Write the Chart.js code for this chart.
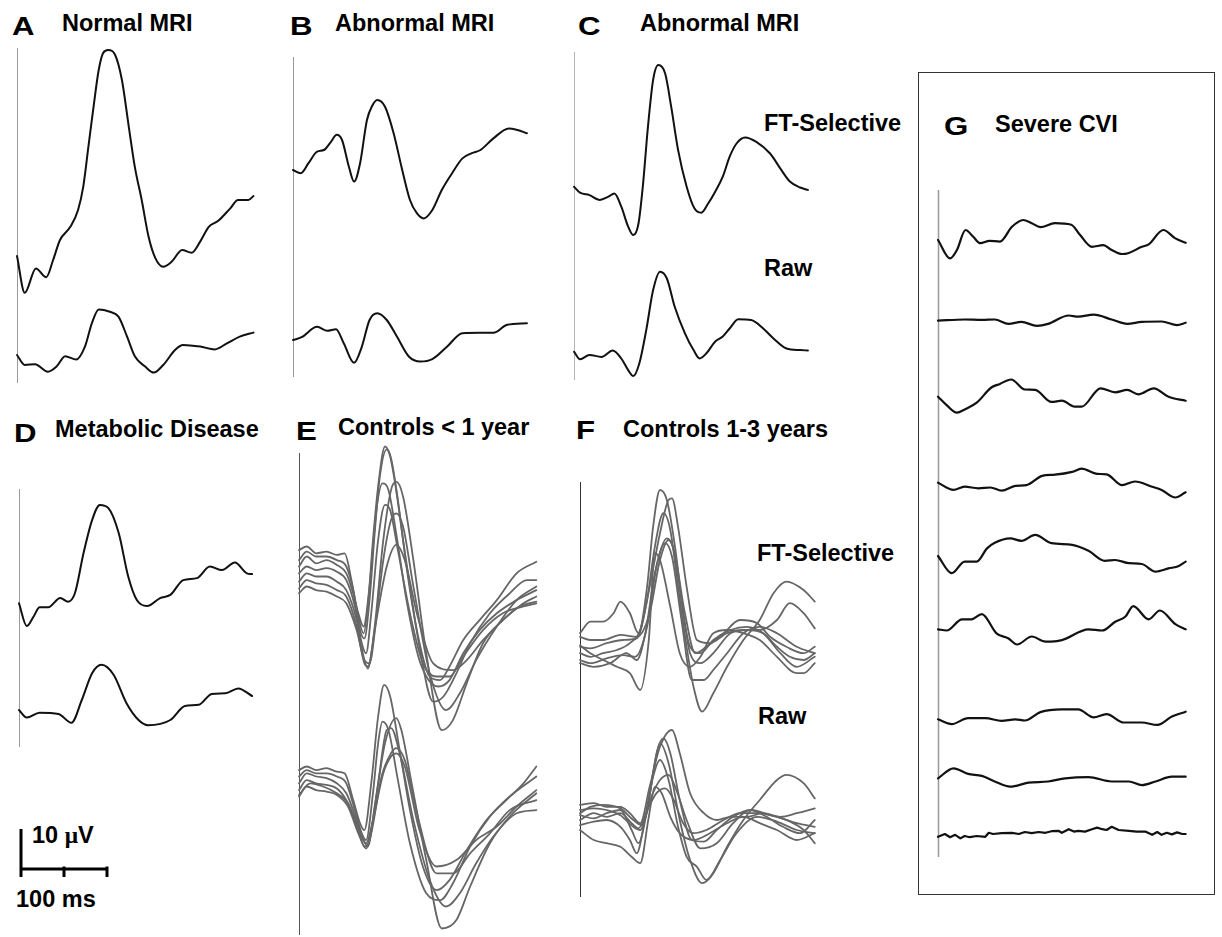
<!DOCTYPE html>
<html>
<head>
<meta charset="utf-8">
<script src="https://cdn.jsdelivr.net/npm/chart.js@4/dist/chart.umd.min.js"></script>
<style>
  body { margin: 0; background: #fff; width: 1222px; height: 937px; position: relative; overflow: hidden;
         font-family: "Liberation Sans", Arial, sans-serif; }
  .t { position: absolute; font-weight: bold; font-size: 23.5px; line-height: 1; color: #000; white-space: nowrap; }
  .L { font-size: 26px; transform: scaleX(1.2); transform-origin: left top; }
  canvas { position: absolute; }
  #gbox { position: absolute; left: 918px; top: 72px; width: 297px; height: 823px; border: 1.5px solid #333; box-sizing: border-box; }
</style>
</head>
<body>
<div id="gbox"></div>

<div class="t L" style="left:12px;top:13px">A</div>
<div class="t" style="left:62px;top:12px">Normal MRI</div>
<div class="t L" style="left:290px;top:13px">B</div>
<div class="t" style="left:335px;top:12px">Abnormal MRI</div>
<div class="t L" style="left:578px;top:13px">C</div>
<div class="t" style="left:640px;top:12px">Abnormal MRI</div>
<div class="t" style="left:764px;top:112px">FT-Selective</div>
<div class="t" style="left:764px;top:257px">Raw</div>
<div class="t L" style="left:14px;top:420px">D</div>
<div class="t" style="left:55px;top:418px">Metabolic Disease</div>
<div class="t L" style="left:296px;top:418px">E</div>
<div class="t" style="left:338px;top:416px">Controls &lt; 1 year</div>
<div class="t L" style="left:576px;top:417px">F</div>
<div class="t" style="left:623px;top:418px">Controls 1-3 years</div>
<div class="t" style="left:757px;top:542px">FT-Selective</div>
<div class="t" style="left:758px;top:705px">Raw</div>
<div class="t L" style="left:944px;top:113px">G</div>
<div class="t" style="left:995px;top:113px">Severe CVI</div>
<div class="t" style="left:32px;top:824px">10 <span style="font-family:'Liberation Serif',serif">μ</span>V</div>
<div class="t" style="left:16px;top:888px">100 ms</div>

<script>
// waveforms: [time ms, amplitude uV], amplitude relative to each group's baseline
const aFt = [[0,0],[9,-9.2],[22,-3.1],[34,-5.3],[42,-1],[50,4],[62,7.3],[71,11.5],[77,17.3],[83,27.3],[89,37.3],[95,46.5],[100,50.7],[106,51.5],[114,50.3],[122,44],[130,32.3],[137,22.3],[145,14],[153,4.8],[161,-0.6],[170,-2.7],[180,-1.4],[192,1.5],[203,0.8],[213,3.6],[223,7.3],[234,8.8],[248,11.9],[257,14],[269,14],[275,15]];
const aRaw = [[0,0],[9,-2.5],[21,-2.3],[36,-4.2],[46,-2.9],[56,-0.3],[69,-1.1],[79,2.1],[87,7.9],[95,11.4],[108,10.8],[118,9.6],[128,4.6],[137,-0.3],[149,-2.9],[159,-4.4],[170,-2.5],[184,1.3],[193,2.5],[213,2.1],[230,1.4],[244,2.9],[259,4.6],[275,5.6]];

const bFt = [[0,0],[9,-0.8],[18,1.7],[28,4.6],[36,5],[43,6.7],[51,8.8],[57,7.5],[65,0.8],[71,-2.9],[78,1.7],[86,12.5],[92,16],[98,17.5],[107,15.8],[117,9.2],[127,0],[136,-7.5],[144,-10.8],[152,-12.1],[162,-10],[173,-5],[185,-0.8],[197,2.9],[208,4.2],[218,5],[233,7.9],[251,10.4],[261,10],[272,9.2]];
const bRaw = [[0,0],[10,0.7],[28,3.3],[40,2.3],[50,2.7],[59,-0.8],[71,-5.7],[80,-1.7],[89,5],[98,6.7],[109,5],[121,0.8],[135,-4.2],[148,-5.4],[162,-4.8],[179,-1.7],[197,1.7],[218,1.8],[233,1.8],[249,3.8],[272,4.2]];

const cFt = [[0,0],[7,-1.5],[18,-2.1],[30,-3.3],[40,-2.5],[47,-1.7],[55,-5],[63,-10],[69,-12.1],[75,-9.2],[80,0],[86,15],[92,26.7],[98,30.4],[106,28.3],[113,20],[121,9.2],[131,0],[140,-5.4],[148,-6.5],[156,-4.2],[164,-1.3],[173,2.5],[181,7.5],[189,10.8],[199,12.3],[212,11.2],[228,8.3],[241,4.2],[251,1.3],[263,-0.2],[272,-0.8]];
const cRaw = [[0,0],[7,-1.9],[18,-0.8],[32,-1.3],[45,0.3],[55,-1.7],[63,-4.6],[69,-6.1],[76,-2.9],[84,5.4],[92,15.4],[100,20],[108,18.3],[117,11.3],[129,4.6],[139,0.4],[146,-1.7],[154,-0.4],[164,2.5],[173,3.8],[181,5.8],[191,8.1],[206,7.9],[220,5.8],[232,3.3],[247,0.8],[263,0.4],[272,0.3]];

const dFt = [[0,0],[9,-5.7],[17,-3.3],[24,-1],[34,-1],[48,1.3],[57,0.4],[65,2.5],[75,12.5],[85,20.8],[94,24.6],[104,23.8],[116,17.5],[127,6.7],[137,0.8],[149,-0.7],[164,1.3],[176,2.1],[191,5.8],[207,6.3],[222,9.2],[236,8.3],[251,10.2],[265,7.5],[271,7.3]];
const dRaw = [[0,0],[9,-1.9],[24,-0.7],[46,-1],[61,-3.2],[73,2.5],[85,9.2],[96,11.3],[110,8.8],[125,1.7],[139,-2.5],[150,-3.8],[176,-2.5],[193,1],[209,1.3],[224,4],[240,4.2],[255,5.4],[271,3.5]];

// E: controls < 1 year
const eFt1 = [[0,5.8],[9,6.7],[20,5],[32,5.4],[44,4.6],[53,5],[61,-1.7],[69,-10.8],[75,-15],[80,-8.3],[86,8.3],[92,21.7],[100,31.7],[106,29.2],[113,20.8],[121,8.3],[129,-3.3],[140,-18.3],[156,-32.1],[168,-30.8],[183,-25],[199,-17.5],[222,-10],[245,-5],[265,-1.7],[276,-1.7]];
const eFt2 = [[0,3.3],[9,5.4],[20,4.2],[32,4.2],[44,3.3],[55,1.7],[63,-4.2],[71,-14.2],[76,-16.3],[82,-6.7],[88,10],[94,24.2],[102,31],[107,28.8],[115,18.3],[125,1.7],[137,-14.2],[152,-25.8],[164,-26.7],[175,-23.3],[191,-16.7],[210,-11.7],[230,-6.7],[253,0],[276,2.9]];
const eFt3 = [[0,1.7],[9,4.2],[20,2.5],[32,3.3],[44,2.1],[55,0],[63,-5],[69,-10],[75,-13.3],[82,-3.3],[90,15.8],[97,22.5],[104,20.8],[113,10],[125,-6.7],[140,-21.7],[162,-28.3],[175,-26.7],[191,-20],[210,-14.2],[230,-10],[253,-6.7],[276,-4.2]];
const eFt4 = [[0,0],[9,1.7],[20,0.8],[32,1.3],[44,0.4],[55,-1.7],[65,-8.3],[73,-17.5],[78,-20],[84,-10],[92,8.3],[100,17.1],[106,15.8],[115,5.8],[129,-10],[144,-22.5],[160,-25.8],[175,-25.8],[191,-20.8],[214,-14.2],[237,-10],[261,-8.3],[276,-7.5]];
const eFt5 = [[0,-2.1],[9,0],[20,-0.8],[32,-0.8],[44,-2.1],[55,-4.2],[67,-11.7],[75,-20.8],[80,-23.8],[88,-13.3],[98,8.3],[107,20.8],[113,22.9],[121,19.2],[133,3.3],[148,-20],[166,-39.2],[179,-36.7],[195,-27.5],[214,-17.5],[237,-11.7],[261,-7.5],[276,-5.8]];
const eFt6 = [[0,-3.8],[9,-1.7],[20,-2.5],[32,-2.9],[44,-4.2],[55,-5.8],[67,-13.3],[76,-22.5],[80,-23.3],[88,-14.2],[98,3.3],[107,13.3],[113,15],[121,11.7],[133,-3.3],[152,-25],[171,-34.2],[187,-30],[206,-21.7],[230,-13.3],[253,-6.7],[276,-3.3]];
const eFt7 = [[0,-5],[9,-3.3],[20,-4.2],[32,-4.6],[44,-5.8],[55,-7.5],[67,-14.2],[76,-21.7],[82,-22.5],[90,-11.7],[102,1.7],[113,7.1],[123,3.3],[137,-10],[156,-22.5],[179,-24.2],[195,-21.7],[214,-16.7],[237,-11.7],[257,-8.3],[276,-7.1]];
const eRaw1 = [[0,3.3],[9,4.2],[20,3.3],[32,3.8],[44,2.9],[53,2.5],[63,-4.2],[71,-10],[76,-11.7],[84,0],[92,16.7],[99,24.6],[106,21.7],[117,8.3],[129,-6.7],[144,-20.8],[160,-26.7],[175,-24.2],[195,-16.7],[218,-9.2],[241,-4.2],[261,0],[276,4.2]];
const eRaw2 = [[0,1.7],[9,3.3],[20,2.5],[32,2.5],[44,1.7],[55,0],[65,-6.7],[73,-12.5],[78,-14.2],[86,-2.5],[92,10],[97,15.4],[104,13.3],[115,0.8],[129,-15],[148,-27.5],[164,-29.2],[179,-25],[199,-15.8],[222,-8.3],[245,-3.3],[276,1.7]];
const eRaw3 = [[0,0],[9,2.5],[20,1.7],[32,1.3],[44,0],[55,-2.5],[67,-9.2],[75,-14.2],[80,-15.8],[88,-5.8],[100,10],[113,16.3],[119,13.3],[131,0],[148,-19.2],[166,-36.3],[183,-34.2],[199,-25.8],[222,-15],[245,-8.3],[276,-2.5]];
const eRaw4 = [[0,-1.7],[9,0.8],[20,0],[32,-0.4],[44,-1.3],[55,-4.2],[67,-10],[76,-15.8],[82,-14.2],[92,0],[102,13.3],[107,13.8],[117,7.5],[133,-9.2],[152,-24.2],[171,-30.8],[187,-27.5],[206,-20],[226,-13.3],[253,-7.5],[276,-6.7]];
const eRaw5 = [[0,-3.3],[9,-0.8],[20,-1.7],[32,-2.1],[44,-2.9],[57,-5.8],[69,-12.5],[78,-16.3],[84,-12.5],[96,1.7],[107,7.5],[113,8.8],[123,5.8],[139,-9.2],[160,-22.5],[179,-22.5],[199,-17.5],[222,-12.5],[245,-6.7],[276,-4.2]];
const eRaw6 = [[0,-2.9],[13,0],[28,-0.8],[44,-2.5],[57,-5],[69,-11.7],[78,-15],[86,-9.2],[98,2.5],[107,6.7],[113,7.5],[123,4.2],[140,-11.7],[160,-20.8],[183,-19.2],[206,-14.2],[230,-10.8],[253,-5.8],[276,-1.7]];

// F: controls 1-3 years
const fFt1 = [[0,1.7],[12,4.6],[27,4.6],[39,6.7],[47,9.6],[58,6.7],[68,1.7],[78,13.3],[85,28.3],[93,37.5],[101,35],[111,22.5],[120,6.7],[128,-1.7],[140,-3.3],[155,0],[175,2.5],[194,3.3],[213,1.7],[233,-3.3],[252,-6.7],[273,-4.2]];
const fFt2 = [[0,-3.3],[12,-4.2],[27,-3.3],[43,-2.5],[58,-0.8],[70,2.5],[81,13.3],[93,26.7],[103,35],[107,35.4],[114,28.3],[124,13.3],[136,0],[151,-0.8],[171,1.7],[190,2.5],[209,2.5],[229,5],[244,9.2],[260,6.7],[273,2.9]];
const fFt3 = [[0,-1.7],[12,-2.1],[31,-0.8],[50,0],[66,0.4],[78,10],[87,23.3],[97,31.7],[105,27.5],[114,13.3],[124,-1.7],[132,-11.7],[142,-17.9],[155,-13.3],[171,-6.7],[190,0],[209,5],[225,11.7],[240,14.6],[260,12.5],[273,9.6]];
const fFt4 = [[0,-5],[12,-5.8],[31,-4.6],[50,-3.8],[64,-4.2],[78,3.3],[89,18.3],[101,25.4],[109,22.5],[118,10],[128,-3.3],[140,-5.8],[155,-3.3],[175,1.7],[194,2.5],[213,1.7],[229,-1.7],[244,-4.2],[260,-5],[273,-3.3]];
const fFt5 = [[0,-5.8],[16,-6.7],[35,-5.8],[54,-3.3],[66,-5],[76,1.7],[87,16.7],[99,24.2],[107,20.8],[118,5],[130,-10],[144,-10],[155,-7.5],[171,-3.3],[190,1.7],[209,3.3],[229,1.7],[252,-1.7],[273,-3.3]];
const fFt6 = [[0,-1.3],[12,-3.3],[27,-5],[43,-6.7],[58,-8.3],[70,-12.5],[80,0],[87,21.7],[93,20],[105,8.3],[116,-3.3],[128,-6.7],[140,-4.2],[155,1.7],[171,2.5],[190,1.7],[209,0],[229,-4.2],[252,-8.3],[260,-8.3],[273,-5.8]];
const fFt7 = [[0,0.8],[12,0],[27,0],[47,1.3],[66,0.8],[81,6.7],[93,20],[103,25],[110,21.7],[122,6.7],[134,-3.3],[147,-1.7],[167,1.7],[186,5],[206,4.2],[221,0.8],[240,-1.7],[260,-3.3],[273,-1.7]];
const fRaw1 = [[0,1.3],[16,1.7],[31,0.8],[47,0.8],[58,-0.8],[70,-3.3],[81,5.8],[93,15.8],[107,20],[116,14.2],[128,4.2],[144,-0.8],[159,-2.5],[175,-1.7],[194,-1.7],[213,-0.8],[233,-1.7],[252,-0.8],[273,0.4]];
const fRaw2 = [[0,0],[16,0.4],[31,0],[47,-1.3],[62,-4.2],[70,-5],[80,2.5],[89,14.2],[97,17.9],[105,14.2],[116,2.5],[130,-7.5],[144,-7.9],[159,-5],[178,-1.7],[198,0],[221,-1.3],[240,-2.5],[260,-5],[273,-8.3]];
const fRaw3 = [[0,-1.3],[16,-2.1],[31,-0.8],[47,0],[60,-5],[68,-8.3],[78,0],[87,11.7],[93,16.7],[103,11.7],[116,-2.5],[128,-12.5],[142,-18.3],[155,-15.8],[171,-9.2],[190,-2.5],[209,2.5],[229,7.5],[240,8.8],[260,6.7],[273,2.9]];
const fRaw4 = [[0,-3.8],[16,-2.9],[31,-2.5],[47,-4.2],[58,-7.5],[66,-10.8],[76,-1.7],[85,8.3],[93,12.5],[103,7.5],[114,-4.2],[124,-11.7],[136,-14.2],[147,-17.5],[163,-12.5],[182,-5.8],[206,-1.7],[229,-2.9],[252,-5],[273,-5.8]];
const fRaw5 = [[0,-0.8],[12,0.8],[27,1.3],[47,0.4],[62,-2.5],[72,-3.8],[83,3.3],[93,7.5],[103,8.8],[112,5],[124,-2.5],[140,-9.6],[159,-8.3],[178,-3.3],[198,0],[217,-1.7],[236,-4.2],[256,-5.8],[273,-2.5]];
const fRaw6 = [[0,-5],[16,-7.5],[31,-8.3],[47,-9.2],[60,-11.7],[70,-13.3],[80,-1.7],[87,5.8],[95,4.2],[105,-1.7],[116,-5.8],[132,-7.5],[151,-5.8],[171,-3.3],[190,-1.7],[209,-3.3],[229,-5],[252,-7.5],[273,-5.8]];
const fRaw7 = [[0,-2.5],[16,-0.8],[31,-1.7],[47,-0.8],[60,-3.3],[68,-4.6],[80,0.8],[89,4.2],[99,5.4],[109,2.5],[120,-3.3],[132,-5.8],[147,-5],[167,-2.5],[186,-0.8],[206,-0.8],[229,-1.7],[252,-3.3],[273,-4.2]];

// G: severe CVI, nine patients
const g1 = [[0,0],[14,-4.6],[22,-2.5],[32,2.5],[41,0.8],[49,-0.8],[60,-0.2],[72,-0.4],[86,3.3],[99,5],[109,4.2],[119,3.2],[136,4.2],[155,3.8],[165,1.3],[179,-1.7],[192,-1.3],[202,-2.5],[214,-3.5],[221,-3.3],[237,-1.7],[245,-1.1],[262,2.5],[276,0.4],[288,-0.7]];
const g2 = [[0,0],[31,0.3],[51,0.2],[66,0.3],[82,-0.8],[97,-0.3],[115,-1.3],[128,-0.8],[152,1.3],[163,1],[181,1.5],[202,0.3],[220,-0.8],[237,-0.3],[260,-0.2],[278,-1.1],[288,-0.5]];
const g3 = [[0,0],[10,-2.1],[22,-4],[31,-3.2],[45,-1.5],[62,2.3],[72,3.2],[85,4.3],[101,1.8],[113,1.7],[132,-1.3],[144,-1],[159,-2.5],[167,-2.5],[189,2.1],[206,1.1],[220,1.7],[233,0.6],[251,2.1],[268,0],[288,-1]];
const g4 = [[0,0],[18,-1.8],[31,-1],[47,-1.4],[61,-1.2],[74,-2],[90,-0.8],[103,-0.6],[121,1.7],[136,2],[156,2.7],[167,3.5],[185,2.2],[196,2.1],[214,-0.6],[229,0.3],[249,-1],[260,-1.8],[276,-3.7],[288,-2.4]];
const g5 = [[0,0],[16,-4.3],[31,-1.4],[45,-1.4],[57,1.9],[66,3.3],[84,4.4],[97,3.8],[113,5.3],[132,3.2],[156,2.8],[175,1.3],[194,-1.2],[206,-1],[222,-1.8],[237,-2],[253,-3.9],[268,-3.1],[280,-2.5],[288,-1.4]];
const g6 = [[0,0],[10,-0.3],[28,2.5],[39,2.5],[51,3.8],[68,-1],[82,-2.3],[92,-3.8],[109,-1.8],[125,-3.1],[144,-2.7],[175,0],[191,-0.3],[206,1.9],[218,3.2],[227,5.8],[245,2.5],[258,4.7],[276,1.3],[288,0]];
const g7 = [[0,0],[16,-1.2],[35,0.3],[55,0.3],[74,-0.4],[90,0],[101,-0.3],[119,1.8],[144,2.5],[163,2.5],[181,0.5],[196,1.3],[216,-0.8],[237,-0.8],[255,-1.4],[272,0.7],[288,1.9]];
const g8 = [[0,0],[18,2.5],[35,1.1],[51,0.6],[66,-0.8],[84,-2.1],[105,-1.1],[128,-0.8],[148,0],[175,0.3],[202,-0.8],[222,-0.8],[237,-1.7],[253,-0.8],[272,0.4],[288,0.4]];
const g9 = [[0,-0.2],[8,0.5],[14,-0.3],[20,0.3],[26,-0.6],[31,0],[37,-0.3],[45,0],[55,-0.2],[59,0.8],[64,0.5],[74,0.7],[86,0.8],[94,0.5],[101,1],[109,0.7],[117,1],[125,0.8],[132,1.2],[140,1.3],[144,0.8],[152,1.7],[158,1.1],[163,1.3],[171,1.1],[179,1.7],[185,2.1],[191,1.7],[196,1.5],[202,2.3],[210,1.5],[222,1.3],[231,1.1],[241,1.1],[249,0.3],[255,1],[260,0.3],[266,0.8],[272,0.4],[278,0.9],[284,0.5],[288,0.5]];

// calibration bar
const scaleBarUv = 10;
const scaleBarMs = 100;
const scaleTicksMs = [50, 100];

// ---- layout ----
const PX_PER_MS = 0.86;
const PX_PER_UV = 4;

const axisLine = {
  id: 'axisLine',
  beforeDatasetsDraw(chart, args, opts) {
    if (!opts.color) return;
    const ctx = chart.ctx;
    const x = Math.round(chart.scales.x.getPixelForValue(0)) + 0.5;
    ctx.save();
    ctx.strokeStyle = opts.color;
    ctx.lineWidth = opts.width || 1;
    ctx.beginPath();
    ctx.moveTo(x, opts.top);
    ctx.lineTo(x, opts.bottom);
    ctx.stroke();
    ctx.restore();
  }
};

function panel(cfg) {
  const pad = 8;
  const left = cfg.axisX - pad;
  const width = cfg.right - left;
  const height = cfg.bottom - cfg.top;
  const cv = document.createElement('canvas');
  cv.width = width;
  cv.height = height;
  cv.style.left = left + 'px';
  cv.style.top = cfg.top + 'px';
  document.body.appendChild(cv);

  const datasets = [];
  cfg.groups.forEach(g => {
    const off = (cfg.bottom - g.baseY) / PX_PER_UV;
    g.traces.forEach(tr => {
      datasets.push({
        data: tr.map(p => ({ x: p[0], y: p[1] + off })),
        borderColor: cfg.color,
        borderWidth: cfg.lineWidth,
        pointRadius: 0,
        fill: false,
        tension: g.jitter ? 0 : 0.4,
        cubicInterpolationMode: g.jitter ? 'default' : 'monotone',
        borderCapStyle: cfg.cap || 'round',
        borderJoinStyle: 'round'
      });
    });
  });
  (cfg.extra || []).forEach(d => datasets.push(d));

  new Chart(cv, {
    type: 'line',
    data: { datasets },
    options: {
      responsive: false,
      animation: false,
      events: [],
      layout: { padding: 0 },
      scales: {
        x: { type: 'linear', display: false, min: -pad / PX_PER_MS, max: (width - pad) / PX_PER_MS },
        y: { type: 'linear', display: false, min: 0, max: height / PX_PER_UV }
      },
      plugins: {
        legend: { display: false },
        tooltip: { enabled: false },
        axisLine: cfg.axis ? {
          color: cfg.axis.color, width: cfg.axis.width,
          top: cfg.axis.top - cfg.top, bottom: cfg.axis.bottom - cfg.top
        } : {}
      }
    },
    plugins: [axisLine]
  });
}

const black = '#111';
const grey = '#666';

panel({ axisX: 17, top: 40, bottom: 392, right: 262, color: black, lineWidth: 2,
  axis: { color: '#9a9a9a', width: 1, top: 48, bottom: 383 },
  groups: [{ baseY: 256, traces: [aFt] }, { baseY: 355, traces: [aRaw] }] });

panel({ axisX: 293, top: 50, bottom: 385, right: 540, color: black, lineWidth: 2,
  axis: { color: '#9a9a9a', width: 1, top: 57, bottom: 377 },
  groups: [{ baseY: 170, traces: [bFt] }, { baseY: 340, traces: [bRaw] }] });

panel({ axisX: 574, top: 45, bottom: 388, right: 820, color: black, lineWidth: 2,
  axis: { color: '#b5b5b5', width: 1, top: 52, bottom: 380 },
  groups: [{ baseY: 186.7, traces: [cFt] }, { baseY: 351.7, traces: [cRaw] }] });

panel({ axisX: 19, top: 480, bottom: 755, right: 262, color: black, lineWidth: 2,
  axis: { color: '#9a9a9a', width: 1, top: 489, bottom: 747 },
  groups: [{ baseY: 603.3, traces: [dFt] }, { baseY: 710, traces: [dRaw] }] });

panel({ axisX: 299, top: 445, bottom: 937, right: 548, color: grey, lineWidth: 1.8,
  axis: { color: '#555', width: 1, top: 453, bottom: 935 },
  groups: [{ baseY: 573.3, traces: [eFt1, eFt2, eFt3, eFt4, eFt5, eFt6, eFt7] },
           { baseY: 783.3, traces: [eRaw1, eRaw2, eRaw3, eRaw4, eRaw5, eRaw6] }] });

panel({ axisX: 580, top: 475, bottom: 905, right: 825, color: grey, lineWidth: 1.8,
  axis: { color: '#333', width: 1, top: 482, bottom: 897 },
  groups: [{ baseY: 640, traces: [fFt1, fFt2, fFt3, fFt4, fFt5, fFt6, fFt7] },
           { baseY: 810, traces: [fRaw1, fRaw2, fRaw3, fRaw4, fRaw5, fRaw6, fRaw7] }] });

panel({ axisX: 938, top: 185, bottom: 865, right: 1200, color: black, lineWidth: 2.2,
  axis: { color: '#999', width: 1.5, top: 190, bottom: 857 },
  groups: [{ baseY: 240, traces: [g1] }, { baseY: 320.7, traces: [g2] }, { baseY: 396.7, traces: [g3] },
           { baseY: 482.7, traces: [g4] }, { baseY: 556, traces: [g5] }, { baseY: 629.3, traces: [g6] },
           { baseY: 719.3, traces: [g7] }, { baseY: 778.3, traces: [g8] }, { baseY: 836, traces: [g9], jitter: true }] });

// calibration bar, drawn through the same ms / uV scales
const barBaseY = 869, barTop = 815, barBottom = 885;
const barOff = (barBottom - barBaseY) / PX_PER_UV;
const tickLen = 2;
const barStyle = { borderColor: '#000', borderWidth: 3, pointRadius: 0, tension: 0, borderCapStyle: 'butt' };
const barSets = [
  Object.assign({ data: [{ x: 0, y: barOff + scaleBarUv }, { x: 0, y: barOff - tickLen }] }, barStyle),
  Object.assign({ data: [{ x: 0, y: barOff }, { x: scaleBarMs, y: barOff }] }, barStyle)
];
scaleTicksMs.forEach(t => barSets.push(Object.assign({ data: [{ x: t, y: barOff + 0.6 }, { x: t, y: barOff - tickLen }] }, barStyle)));
panel({ axisX: 21, top: barTop, bottom: barBottom, right: 120, color: '#000', lineWidth: 3,
  groups: [], extra: barSets });
</script>
</body>
</html>
